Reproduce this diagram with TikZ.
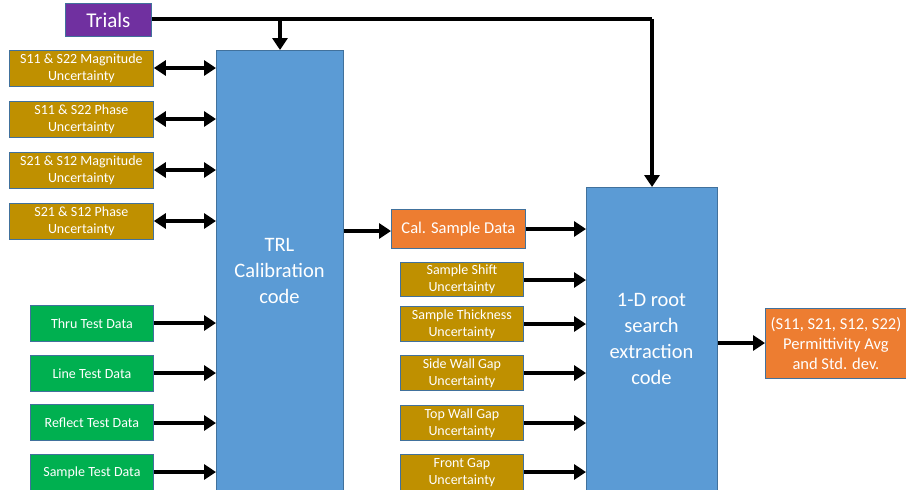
\documentclass[tikz,border=0pt]{standalone}
\usepackage{fontspec}
\setmainfont{Carlito}
\usetikzlibrary{arrows.meta}
\definecolor{cpurple}{HTML}{7030A0}
\definecolor{cblue}{HTML}{5B9BD5}
\definecolor{cgold}{HTML}{BF9000}
\definecolor{cgreen}{HTML}{00B050}
\definecolor{corange}{HTML}{ED7D31}
\definecolor{cedge}{HTML}{41719C}
\tikzset{
  box/.style={draw=cedge, line width=0.8pt, inner sep=0pt, text=white, align=center, anchor=north west},
  goldbox/.style={box, fill=cgold, font=\fontsize{14}{17}\selectfont},
  greenbox/.style={box, fill=cgreen, font=\fontsize{14}{17}\selectfont},
  bigbox/.style={box, fill=cblue},
  bigtext/.style={text=white, align=center, font=\fontsize{20.5}{26}\selectfont},
  arr/.style={line width=4.5pt, -{Triangle[length=12pt,width=15pt]}},
  darr/.style={line width=4.5pt, {Triangle[length=12pt,width=15pt]}-{Triangle[length=12pt,width=15pt]}},
  conn/.style={line width=4.5pt}
}
\begin{document}
\begin{tikzpicture}[x=1pt,y=-1pt]
\useasboundingbox (0,0) rectangle (906,490);
% Trials
\node[box, fill=cpurple, font=\fontsize{21}{24}\selectfont, minimum width=86pt, minimum height=33pt] (trials) at (65,3) {Trials};
% TRL
\node[bigbox, minimum width=127pt, minimum height=440pt] (trl) at (216,50) {};
\node[bigtext] (trltext) at (279.5,271) {TRL\\Calibration\\code};
% 1-D
\node[bigbox, minimum width=131pt, minimum height=303pt] (root) at (586,187) {};
\node[bigtext] (roottext) at (651.5,339) {1-D root\\search\\extraction\\code};
% left gold boxes
\node[goldbox, minimum width=144pt, minimum height=36pt] (g1) at (9,50) {S11 \& S22 Magnitude\\Uncertainty};
\node[goldbox, minimum width=144pt, minimum height=36pt] (g2) at (9,101) {S11 \& S22 Phase\\Uncertainty};
\node[goldbox, minimum width=144pt, minimum height=36pt] (g3) at (9,152) {S21 \& S12 Magnitude\\Uncertainty};
\node[goldbox, minimum width=144pt, minimum height=36pt] (g4) at (9,203) {S21 \& S12 Phase\\Uncertainty};
% green boxes
\node[greenbox, minimum width=123pt, minimum height=36pt] (t1) at (30,305) {Thru Test Data};
\node[greenbox, minimum width=123pt, minimum height=36pt] (t2) at (30,355) {Line Test Data};
\node[greenbox, minimum width=123pt, minimum height=36pt] (t3) at (30,404) {Reflect Test Data};
\node[greenbox, minimum width=123pt, minimum height=36pt] (t4) at (30,454) {Sample Test Data};
% cal sample
\node[box, fill=corange, font=\fontsize{16.5}{18}\selectfont, minimum width=134pt, minimum height=39pt] (cal) at (391,209) {Cal. Sample Data};
% small gold boxes
\node[goldbox, minimum width=123pt, minimum height=34pt] (u1) at (400,262) {Sample Shift\\Uncertainty};
\node[goldbox, minimum width=123pt, minimum height=35pt] (u2) at (400,306) {Sample Thickness\\Uncertainty};
\node[goldbox, minimum width=123pt, minimum height=35pt] (u3) at (400,355) {Side Wall Gap\\Uncertainty};
\node[goldbox, minimum width=123pt, minimum height=35pt] (u4) at (400,405) {Top Wall Gap\\Uncertainty};
\node[goldbox, minimum width=123pt, minimum height=36pt] (u5) at (400,454) {Front Gap\\Uncertainty};
% output
\node[box, fill=corange, font=\fontsize{16.5}{20}\selectfont, minimum width=141pt, minimum height=70pt] (out) at (765,308) {(S11, S21, S12, S22)\\Permittivity Avg\\and Std. dev.};
% connectors
\coordinate (tr1) at (280,19);
\coordinate (tr2) at (652,19);
\draw[conn] (trials.east |- tr1) -- (tr2);
\draw[arr] (tr1) -- (trl.north -| tr1);
\draw[arr] (tr2) -- (root.north -| tr2);
\foreach \n/\y in {g1/68,g2/119,g3/170,g4/221}{
  \draw[darr] (\n.east |- 0,\y) -- (trl.west |- 0,\y);
}
\foreach \n/\y in {t1/323,t2/373,t3/423,t4/472}{
  \draw[arr] (\n.east |- 0,\y) -- (trl.west |- 0,\y);
}
\draw[arr] (trl.east |- 0,231) -- (cal.west |- 0,231);
\draw[arr] (cal.east |- 0,229) -- (root.west |- 0,229);
\foreach \n/\y in {u1/280,u2/324,u3/373,u4/423,u5/472}{
  \draw[arr] (\n.east |- 0,\y) -- (root.west |- 0,\y);
}
\draw[arr] (root.east |- 0,343) -- (out.west |- 0,343);
\end{tikzpicture}
\end{document}
